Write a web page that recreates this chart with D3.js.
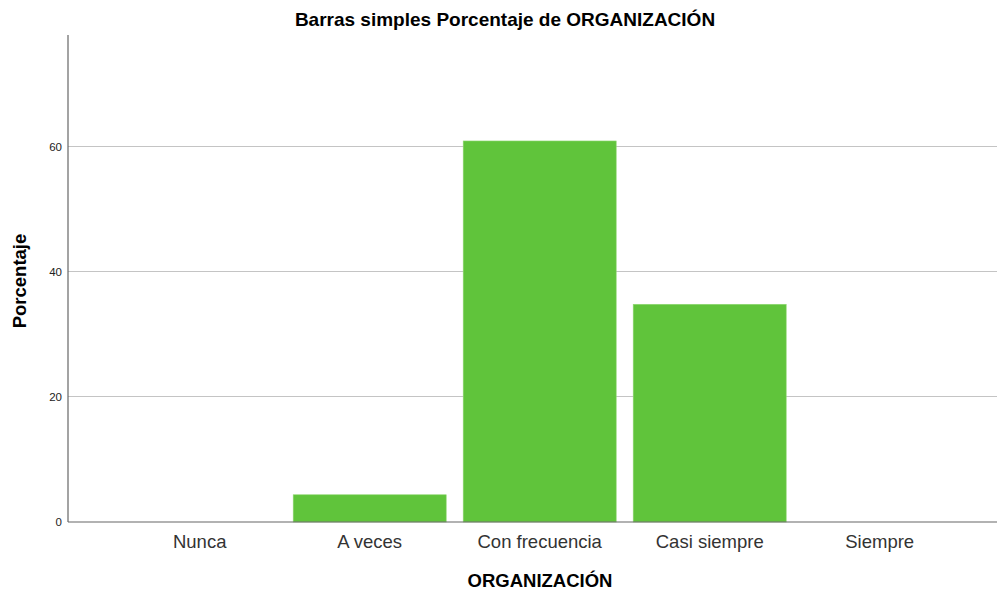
<!DOCTYPE html>
<html><head><meta charset="utf-8">
<script src="https://cdn.jsdelivr.net/npm/d3@7"></script>
<style>body{margin:0;background:#fff}svg{display:block;font-family:"Liberation Sans",Arial,sans-serif}</style>
</head><body>
<svg id="c" width="1000" height="592"></svg>
<script>
const categories = ["Nunca", "A veces", "Con frecuencia", "Casi siempre", "Siempre"];
const percentages = [0, 4.35, 60.87, 34.78, 0];
const yTicks = [0, 20, 40, 60];
const title = "Barras simples Porcentaje de ORGANIZACIÓN";
const xTitle = "ORGANIZACIÓN";
const yTitle = "Porcentaje";

const svg = d3.select("#c");
const x0 = 68, x1 = 997, yTop = 35, yBot = 522;
const x = d3.scaleBand().domain(categories).range([114.7, 964.7]).paddingInner(0.1).paddingOuter(0.05);
const y = d3.scaleLinear().domain([0, 77.8]).range([yBot, yTop]);

// gridlines
svg.append("g").selectAll("line").data(yTicks.filter(d => d > 0)).join("line")
  .attr("x1", x0).attr("x2", x1).attr("y1", d => y(d)).attr("y2", d => y(d))
  .attr("stroke", "#c4c4c4").attr("stroke-width", 1).attr("shape-rendering", "crispEdges");

// bars
svg.append("g").selectAll("rect").data(categories.map((c, i) => ({c, v: percentages[i]}))).join("rect")
  .attr("x", d => x(d.c)).attr("width", x.bandwidth())
  .attr("y", d => y(d.v)).attr("height", d => yBot - y(d.v))
  .attr("fill", "#60c43b").attr("stroke", "#8fd873").attr("stroke-width", 0.6);

// y axis
const yAxis = d3.axisLeft(y).tickValues(yTicks).tickSize(0).tickPadding(6);
const ga = svg.append("g").attr("transform", `translate(${x0},0)`).call(yAxis);
ga.select(".domain").remove();
ga.selectAll("text").attr("font-size", 11.5).attr("fill", "#222").attr("font-family", "Liberation Sans, Arial, sans-serif");
svg.append("line").attr("x1", x0).attr("x2", x0).attr("y1", yTop).attr("y2", yBot)
  .attr("stroke", "#666").attr("stroke-width", 1.2);

// x axis
const xAxis = d3.axisBottom(x).tickSize(0).tickPadding(13);
const gx = svg.append("g").attr("transform", `translate(0,${yBot})`).call(xAxis);
gx.select(".domain").remove();
gx.selectAll("text").attr("font-size", 18.5).attr("fill", "#333").attr("font-family", "Liberation Sans, Arial, sans-serif");
svg.append("line").attr("x1", x0).attr("x2", x1).attr("y1", yBot).attr("y2", yBot)
  .attr("stroke", "#666").attr("stroke-width", 1.2);

// titles
svg.append("text").attr("x", 505).attr("y", 26).attr("text-anchor", "middle")
  .attr("font-size", 19).attr("font-weight", "bold").attr("fill", "#000").text(title);
svg.append("text").attr("x", 540).attr("y", 587).attr("text-anchor", "middle")
  .attr("font-size", 18.5).attr("font-weight", "bold").attr("fill", "#000").text(xTitle);
svg.append("text").attr("transform", "translate(25.5,281) rotate(-90)").attr("text-anchor", "middle")
  .attr("font-size", 18.5).attr("font-weight", "bold").attr("fill", "#000").text(yTitle);
</script>
</body></html>
